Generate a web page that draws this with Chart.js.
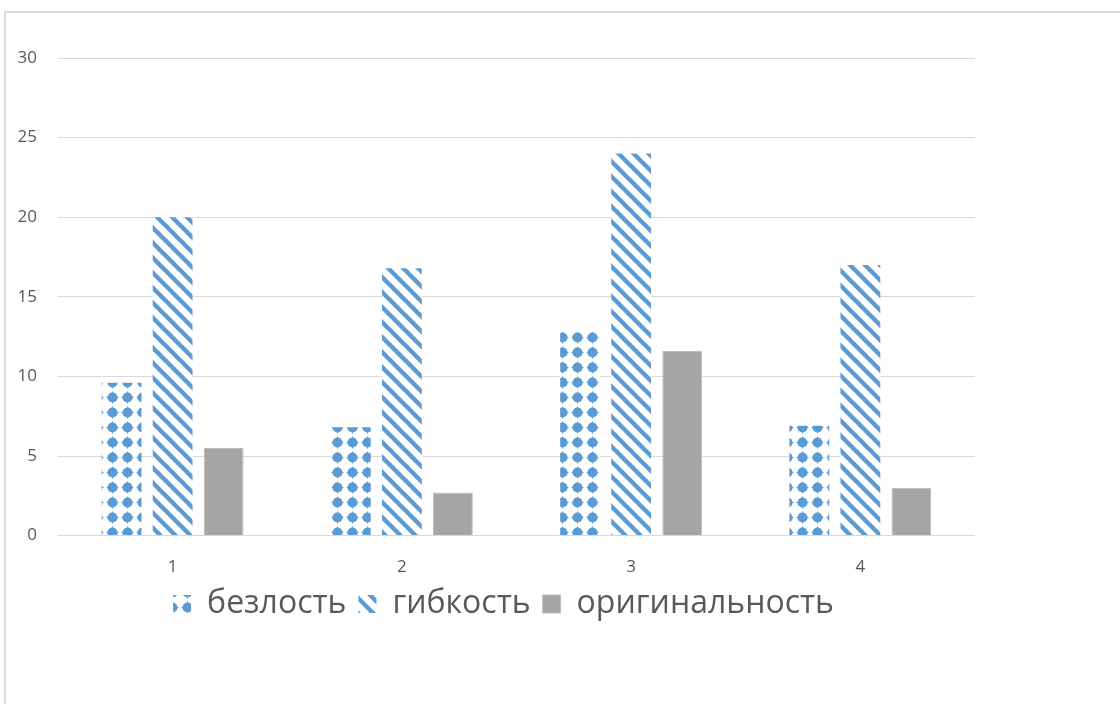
<!DOCTYPE html>
<html>
<head>
<meta charset="utf-8">
<script src="https://cdn.jsdelivr.net/npm/chart.js@4.4.1/dist/chart.umd.min.js"></script>
<style>
  html, body { margin: 0; padding: 0; background: #ffffff; }
  #frame { position: absolute; left: 4px; top: 11px; width: 1300px; height: 900px; border: 2px solid #dadada; }
  #wrap { position: absolute; left: 0; top: 0; width: 1120px; height: 704px; }
</style>
</head>
<body>
<div id="frame"></div>
<div id="wrap"><canvas id="c" width="1120" height="704"></canvas></div>
<script>
const categories = ['1', '2', '3', '4'];
const seriesNames = ['безлость', 'гибкость', 'оригинальность'];
const bezlost = [9.6, 6.8, 12.8, 6.9];
const gibkost = [20, 16.8, 24, 17];
const originalnost = [5.5, 2.7, 11.6, 3];
const yTicks = [0, 5, 10, 15, 20, 25, 30];

const BLUE = '#5B9BD5';
const GRAY = '#A5A5A5';
const TEXT = '#595959';

function dotPattern() {
  const s = 15, h = 7.5;
  const c = document.createElement('canvas');
  c.width = s; c.height = s;
  const x = c.getContext('2d');
  x.fillStyle = '#ffffff'; x.fillRect(0, 0, s, s);
  x.fillStyle = BLUE;
  x.beginPath(); x.arc(h, h, 5.1, 0, Math.PI * 2); x.fill();
  x.beginPath(); x.moveTo(h, 0.6); x.lineTo(h + 1.8, h); x.lineTo(h, s - 0.6); x.lineTo(h - 1.8, h); x.closePath(); x.fill();
  x.beginPath(); x.moveTo(0.6, h); x.lineTo(h, h + 1.8); x.lineTo(s - 0.6, h); x.lineTo(h, h - 1.8); x.closePath(); x.fill();
  return x.createPattern(c, 'repeat');
}
function stripePattern() {
  const s = 15;
  const c = document.createElement('canvas');
  c.width = s; c.height = s;
  const x = c.getContext('2d');
  x.fillStyle = '#ffffff'; x.fillRect(0, 0, s, s);
  x.strokeStyle = BLUE; x.lineWidth = 4.4;
  for (let k = -1; k <= 1; k++) {
    x.beginPath(); x.moveTo(k * s - 2, -2); x.lineTo(k * s + s + 2, s + 2); x.stroke();
  }
  return x.createPattern(c, 'repeat');
}

const data = {
  labels: categories,
  datasets: [
    { label: seriesNames[0], data: bezlost, backgroundColor: dotPattern(), borderWidth: 0 },
    { label: seriesNames[1], data: gibkost, backgroundColor: stripePattern(), borderWidth: 0 },
    { label: seriesNames[2], data: originalnost, backgroundColor: GRAY, borderColor: '#BDBDBD', borderWidth: 1 }
  ]
};

const shiftLegend = {
  id: 'shiftLegend',
  afterLayout(chart) {
    const lg = chart.legend;
    if (lg) { lg.left += 16; lg.right += 16; lg.top -= 22; lg.bottom -= 22; }
  }
};

new Chart(document.getElementById('c'), {
  type: 'bar',
  data: data,
  plugins: [shiftLegend],
  options: {
    responsive: false,
    animation: false,
    devicePixelRatio: 1,
    categoryPercentage: 0.668,
    barPercentage: 0.78,
    layout: { padding: { left: 0, right: 145, top: 58, bottom: 52 } },
    scales: {
      x: {
        grid: { display: false, drawTicks: false },
        border: { display: false },
        ticks: { color: TEXT, font: { family: 'Open Sans', size: 17 }, padding: 21 }
      },
      y: {
        min: 0, max: 30,
        afterBuildTicks: (scale) => { scale.ticks = yTicks.map(v => ({ value: v })); },
        afterFit: (scale) => { scale.width = 58; },
        grid: { color: '#D9D9D9', lineWidth: 1, drawTicks: false },
        border: { display: false },
        ticks: { color: TEXT, font: { family: 'Open Sans', size: 17 }, padding: 21 }
      }
    },
    plugins: {
      tooltip: { enabled: false },
      legend: {
        position: 'bottom',
        labels: {
          color: TEXT,
          font: { family: 'Open Sans', size: 32 },
          boxWidth: 18, boxHeight: 18,
          padding: 12
        }
      }
    }
  }
});
</script>
</body>
</html>
